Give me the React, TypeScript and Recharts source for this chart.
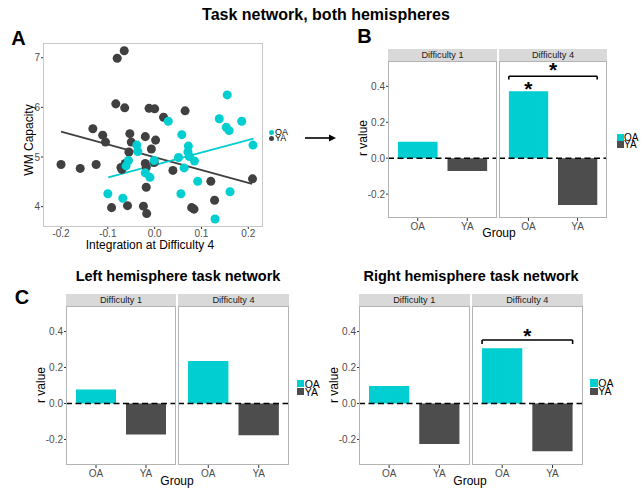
import React from 'react';
import {
  ScatterChart,
  Scatter,
  ZAxis,
  BarChart,
  Bar,
  Cell,
  XAxis,
  YAxis,
  ReferenceLine,
  ReferenceDot,
} from 'recharts';

const FONT = '"Liberation Sans", Arial, Helvetica, sans-serif';
const CYAN = '#00CED1';
const DARK = '#4D4D4D';
const DOT_DARK = '#404040';
const TICK = '#4D4D4D';

// Panel A: WM capacity vs integration at difficulty 4
const oaIntegration = [
  -0.1, -0.068, -0.061, -0.056, -0.038, -0.036, -0.02, -0.01, -0.001, 0.029, 0.051, 0.058, 0.063, 0.056,
  0.072, 0.071, 0.074, 0.085, 0.092, 0.129, 0.138, 0.155, 0.153, 0.159, 0.161, 0.186, 0.21,
];
const oaCapacity = [
  4.26, 4.17, 4.82, 4.93, 5.24, 5.11, 4.68, 4.59, 4.93, 5.72, 4.99, 5.45, 4.78, 4.26,
  5.22, 5.1, 5.01, 4.92, 4.51, 3.75, 5.77, 6.25, 5.6, 5.53, 4.3, 5.72, 5.24,
];
const yaIntegration = [
  -0.2, -0.159, -0.125, -0.132, -0.111, -0.105, -0.08, -0.065, -0.083, -0.064, -0.053, -0.05, -0.055,
  -0.063, -0.072, -0.07, -0.092, -0.058, -0.024, -0.017, -0.018, -0.02, -0.02, -0.018, -0.012, 0.0,
  -0.007, 0.002, -0.001, 0.019, 0.065, 0.039, 0.12, 0.128, 0.079, 0.084, 0.209,
];
const yaCapacity = [
  4.85, 4.77, 4.85, 5.57, 5.44, 5.3, 6.99, 7.14, 6.07, 5.99, 5.47, 5.3, 5.1,
  4.87, 4.79, 4.75, 3.98, 4.02, 4.01, 3.86, 4.39, 5.41, 4.87, 4.79, 5.98, 5.97,
  5.16, 5.34, 4.89, 5.8, 5.93, 4.73, 4.51, 4.13, 3.98, 3.95, 4.56,
];
const oaFitX = [-0.099, 0.211];
const oaFitY = [4.59, 5.37];
const yaFitX = [-0.2, 0.208];
const yaFitY = [5.51, 4.46];
const integrationTicks = [-0.2, -0.1, 0, 0.1, 0.2];
const capacityTicks = [4, 5, 6, 7];

// Panels B and C: r value by group and difficulty
const groups = ['OA', 'YA'];
const difficulties = ['Difficulty 1', 'Difficulty 4'];
const rTicks = [-0.2, 0, 0.2, 0.4];
const bothD1 = [0.091, -0.071];
const bothD4 = [0.372, -0.26];
const leftD1 = [0.078, -0.173];
const leftD4 = [0.236, -0.177];
const rightD1 = [0.097, -0.225];
const rightD4 = [0.307, -0.266];

const oaPoints = oaIntegration.map((x, i) => ({ x, y: oaCapacity[i] }));
const yaPoints = yaIntegration.map((x, i) => ({ x, y: yaCapacity[i] }));

function Txt({ x, y, size, bold, rotate, color = '#000', children }) {
  return (
    <div
      style={{
        position: 'absolute',
        left: x,
        top: y,
        transform: `translate(-50%, -50%)${rotate ? ` rotate(${rotate}deg)` : ''}`,
        fontSize: size,
        fontWeight: bold ? 700 : 400,
        color,
        whiteSpace: 'nowrap',
        lineHeight: 1,
      }}
    >
      {children}
    </div>
  );
}

function Facet({ x, y, w, h, strip, values, domain, showY, bracket, groupStar }) {
  // ggplot-style discrete positions 1, 2 on a 0.4..2.6 range
  const data = groups.map((g, i) => ({ pos: i + 1, group: g, r: values[i] }));
  const axisW = showY ? 24 : 0;
  const axisH = 16;
  const padTop = 10;
  const seg = (key, x1, y1, x2, y2) => (
    <ReferenceLine
      key={key}
      segment={[{ x: x1, y: y1 }, { x: x2, y: y2 }]}
      stroke="#000"
      strokeWidth={1.6}
      ifOverflow="visible"
    />
  );
  const star = (key, sx, sy) => (
    <ReferenceDot
      key={key}
      x={sx}
      y={sy}
      r={0}
      ifOverflow="visible"
      label={{ value: '*', position: 'center', fill: '#000', fontSize: 21, fontWeight: 700 }}
    />
  );
  return (
    <>
      <div style={{ position: 'absolute', left: x - axisW, top: y - padTop }}>
        <BarChart
          width={w + axisW}
          height={h + axisH + padTop}
          data={data}
          margin={{ top: padTop, right: 0, bottom: 0, left: 0 }}
        >
          <XAxis
            dataKey="pos"
            type="number"
            domain={[0.4, 2.6]}
            ticks={[1, 2]}
            tickFormatter={(v) => groups[v - 1]}
            allowDataOverflow
            height={axisH}
            axisLine={false}
            tickSize={3}
            tickMargin={1.5}
            tickLine={{ stroke: '#333' }}
            tick={{ fill: TICK, fontSize: 10 }}
            interval={0}
          />
          <YAxis
            type="number"
            domain={domain}
            ticks={rTicks}
            allowDataOverflow
            width={axisW}
            hide={!showY}
            axisLine={false}
            tickSize={2}
            tickMargin={1}
            tickLine={{ stroke: '#333' }}
            tick={{ fill: TICK, fontSize: 10 }}
            tickFormatter={(v) => v.toFixed(1)}
            interval={0}
          />
          <Bar dataKey="r" barSize={(w * 0.8) / 2.2} isAnimationActive={false}>
            {data.map((d, i) => (
              <Cell key={d.group} fill={i === 0 ? CYAN : DARK} />
            ))}
          </Bar>
          <ReferenceLine y={0} stroke="#000" strokeDasharray="6 3.5" strokeWidth={1.4} />
          {bracket && seg('top', 0.6, bracket[0], 2.4, bracket[0])}
          {bracket && seg('l', 0.6, bracket[0], 0.6, bracket[0] - bracket[1])}
          {bracket && seg('r', 2.4, bracket[0], 2.4, bracket[0] - bracket[1])}
          {bracket && star('bs', 1.5, bracket[2])}
          {groupStar != null && star('gs', 1, groupStar)}
        </BarChart>
      </div>
      <div
        style={{
          position: 'absolute',
          left: x,
          top: y - 12.5,
          width: w,
          height: 12.5,
          background: '#D9D9D9',
          fontSize: 9.2,
          lineHeight: '12.5px',
          textAlign: 'center',
          color: '#1A1A1A',
        }}
      >
        {strip}
      </div>
      <div
        style={{
          position: 'absolute',
          left: x,
          top: y,
          width: w,
          height: h,
          border: '1px solid #B3B3B3',
          boxSizing: 'border-box',
          pointerEvents: 'none',
        }}
      />
    </>
  );
}

function SquareLegend({ x, y, size, fontSize }) {
  const step = size + 0.8;
  return (
    <>
      {groups.map((g, i) => (
        <React.Fragment key={g}>
          <div
            style={{
              position: 'absolute',
              left: x,
              top: y + i * step,
              width: size,
              height: size,
              background: i === 0 ? CYAN : DARK,
            }}
          />
          <div
            style={{
              position: 'absolute',
              left: x + size + 0.5,
              top: y + i * step + (size - step) / 2,
              height: step,
              fontSize,
              lineHeight: `${step}px`,
              color: '#000',
            }}
          >
            {g}
          </div>
        </React.Fragment>
      ))}
    </>
  );
}

export default function App() {
  const domainB = [-0.333, 0.541];
  const domainC = [-0.342, 0.542];
  return (
    <div
      style={{
        position: 'absolute',
        left: 0,
        top: 0,
        width: 641,
        height: 494,
        background: '#fff',
        fontFamily: FONT,
        overflow: 'hidden',
      }}
    >
      <Txt x={326} y={15} size={16} bold>Task network, both hemispheres</Txt>
      <Txt x={18.5} y={38} size={20} bold>A</Txt>
      <Txt x={364.5} y={35.5} size={20} bold>B</Txt>
      <Txt x={22} y={297} size={20} bold>C</Txt>

      {/* A: scatter */}
      <div style={{ position: 'absolute', left: 43 - 22, top: 43 }}>
        <ScatterChart width={242} height={200} margin={{ top: 0, right: 0, bottom: 0, left: 0 }}>
          <XAxis
            type="number"
            dataKey="x"
            domain={[-0.2385, 0.2314]}
            ticks={integrationTicks}
            allowDataOverflow
            height={16}
            axisLine={false}
            tickSize={2}
            tickMargin={1}
            tickLine={{ stroke: '#333' }}
            tick={{ fill: TICK, fontSize: 10 }}
            tickFormatter={(v) => v.toFixed(1)}
            interval={0}
          />
          <YAxis
            type="number"
            dataKey="y"
            domain={[3.59, 7.296]}
            ticks={capacityTicks}
            allowDataOverflow
            width={22}
            axisLine={false}
            tickSize={2}
            tickMargin={1}
            tickLine={{ stroke: '#333' }}
            tick={{ fill: TICK, fontSize: 10 }}
            interval={0}
          />
          <ZAxis range={[23, 23]} />
          <Scatter data={yaPoints} fill={DOT_DARK} isAnimationActive={false} />
          <Scatter data={oaPoints} fill={CYAN} isAnimationActive={false} />
          <ReferenceLine
            segment={[{ x: yaFitX[0], y: yaFitY[0] }, { x: yaFitX[1], y: yaFitY[1] }]}
            stroke={DOT_DARK}
            strokeWidth={1.8}
          />
          <ReferenceLine
            segment={[{ x: oaFitX[0], y: oaFitY[0] }, { x: oaFitX[1], y: oaFitY[1] }]}
            stroke={CYAN}
            strokeWidth={1.8}
          />
        </ScatterChart>
      </div>
      <div
        style={{
          position: 'absolute',
          left: 43,
          top: 43,
          width: 220,
          height: 184,
          border: '1px solid #C8C8C8',
          boxSizing: 'border-box',
        }}
      />
      <Txt x={150} y={245} size={12}>Integration at Difficulty 4</Txt>
      <Txt x={29} y={140} size={12} rotate={-90}>WM Capacity</Txt>
      {groups.map((g, i) => (
        <React.Fragment key={g}>
          <div
            style={{
              position: 'absolute',
              left: 269,
              top: 130 + i * 5.8,
              width: 5.4,
              height: 5.4,
              borderRadius: '50%',
              background: i === 0 ? CYAN : DOT_DARK,
            }}
          />
          <div
            style={{
              position: 'absolute',
              left: 275,
              top: 129.8 + i * 5.8,
              height: 5.8,
              fontSize: 9,
              lineHeight: '5.8px',
            }}
          >
            {g}
          </div>
        </React.Fragment>
      ))}

      <svg style={{ position: 'absolute', left: 303, top: 132 }} width={36} height={12}>
        <line x1={2} y1={6} x2={28} y2={6} stroke="#000" strokeWidth={1.6} />
        <polygon points="33,6 26,2.5 26,9.5" fill="#000" />
      </svg>

      {/* B */}
      <Facet x={388} y={61} w={109} h={157} strip={difficulties[0]} values={bothD1} domain={domainB} showY />
      <Facet
        x={499}
        y={61}
        w={108}
        h={157}
        strip={difficulties[1]}
        values={bothD4}
        domain={domainB}
        bracket={[0.456, 0.018, 0.495]}
        groupStar={0.39}
      />
      <Txt x={363} y={138} size={12} rotate={-90}>r value</Txt>
      <Txt x={499} y={233} size={12}>Group</Txt>
      <SquareLegend x={617} y={134} size={6.5} fontSize={10} />

      {/* C left */}
      <Txt x={178} y={276} size={14.5} bold>Left hemisphere task network</Txt>
      <Facet x={66} y={306} w={110} h={159} strip={difficulties[0]} values={leftD1} domain={domainC} showY />
      <Facet x={178} y={306} w={111} h={159} strip={difficulties[1]} values={leftD4} domain={domainC} />
      <Txt x={41} y={385} size={12} rotate={-90}>r value</Txt>
      <Txt x={177} y={481} size={12}>Group</Txt>
      <SquareLegend x={297} y={380} size={7.2} fontSize={10.5} />

      {/* C right */}
      <Txt x={471} y={276} size={14.5} bold>Right hemisphere task network</Txt>
      <Facet x={359} y={306} w={110.5} h={159} strip={difficulties[0]} values={rightD1} domain={domainC} showY />
      <Facet
        x={472}
        y={306}
        w={110.7}
        h={159}
        strip={difficulties[1]}
        values={rightD4}
        domain={domainC}
        bracket={[0.353, 0.022, 0.38]}
      />
      <Txt x={334} y={385} size={12} rotate={-90}>r value</Txt>
      <Txt x={470} y={481} size={12}>Group</Txt>
      <SquareLegend x={590} y={379} size={7.8} fontSize={10.5} />
    </div>
  );
}
